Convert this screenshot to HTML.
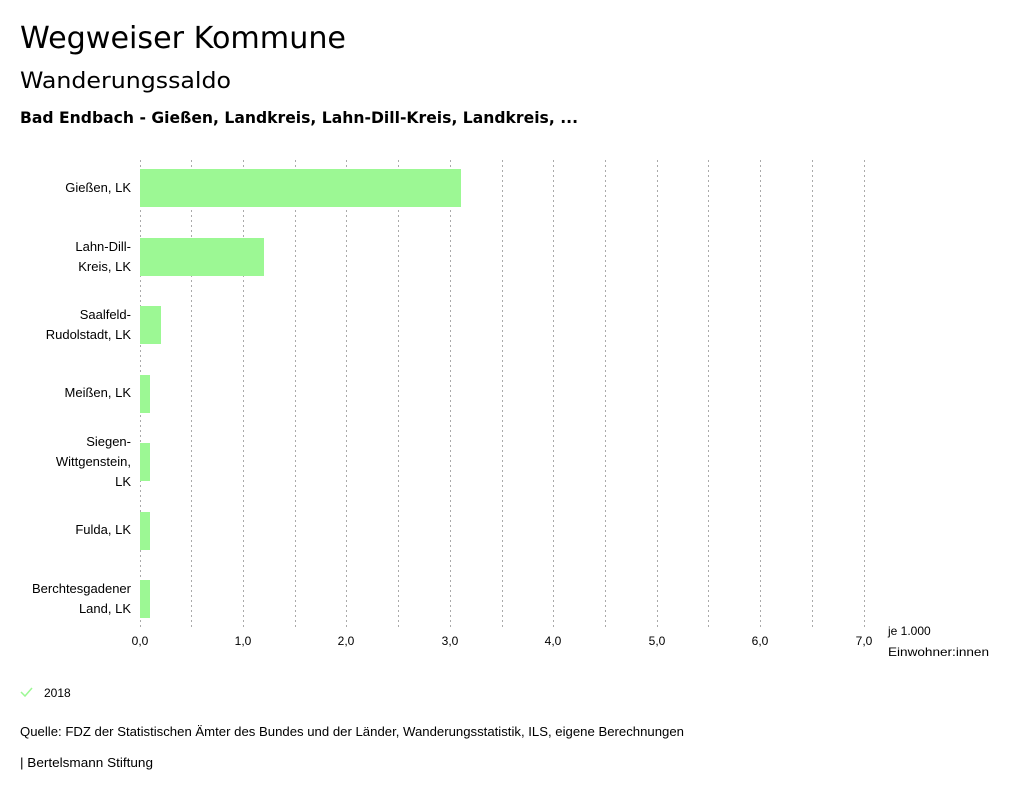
<!DOCTYPE html>
<html><head><meta charset="utf-8"><style>
body{margin:0;background:#fff;width:1024px;height:795px;overflow:hidden}
svg text{font-family:"Liberation Sans",sans-serif;fill:#000}
svg text.h{font-family:"DejaVu Sans",sans-serif}
</style></head><body>
<svg width="1024" height="795" xmlns="http://www.w3.org/2000/svg">
<text class="h" x="20" y="48" font-size="30" textLength="326" lengthAdjust="spacingAndGlyphs">Wegweiser Kommune</text>
<text class="h" x="20" y="88" font-size="22" textLength="211" lengthAdjust="spacingAndGlyphs">Wanderungssaldo</text>
<text class="h" x="20" y="123" font-size="16" font-weight="bold" textLength="558" lengthAdjust="spacingAndGlyphs">Bad Endbach - Gießen, Landkreis, Lahn-Dill-Kreis, Landkreis, ...</text>
<g stroke="#aaa" stroke-width="1" stroke-dasharray="2,3">
<line x1="140.5" y1="160" x2="140.5" y2="628"/><line x1="191.5" y1="160" x2="191.5" y2="628"/>
<line x1="243.5" y1="160" x2="243.5" y2="628"/><line x1="295.5" y1="160" x2="295.5" y2="628"/>
<line x1="346.5" y1="160" x2="346.5" y2="628"/><line x1="398.5" y1="160" x2="398.5" y2="628"/>
<line x1="450.5" y1="160" x2="450.5" y2="628"/><line x1="502.5" y1="160" x2="502.5" y2="628"/>
<line x1="553.5" y1="160" x2="553.5" y2="628"/><line x1="605.5" y1="160" x2="605.5" y2="628"/>
<line x1="657.5" y1="160" x2="657.5" y2="628"/><line x1="708.5" y1="160" x2="708.5" y2="628"/>
<line x1="760.5" y1="160" x2="760.5" y2="628"/><line x1="812.5" y1="160" x2="812.5" y2="628"/>
<line x1="864.5" y1="160" x2="864.5" y2="628"/>
</g>
<g fill="#9cf894">
<rect x="140" y="169" width="321" height="38"/>
<rect x="140" y="238" width="124" height="38"/>
<rect x="140" y="306" width="21" height="38"/>
<rect x="140" y="375" width="10" height="38"/>
<rect x="140" y="443" width="10" height="38"/>
<rect x="140" y="512" width="10" height="38"/>
<rect x="140" y="580" width="10" height="38"/>
</g>
<g font-size="13" text-anchor="end">
<text x="131" y="192">Gießen, LK</text>
<text x="131" y="251">Lahn-Dill-</text><text x="131" y="271">Kreis, LK</text>
<text x="131" y="319">Saalfeld-</text><text x="131" y="339">Rudolstadt, LK</text>
<text x="131" y="397">Meißen, LK</text>
<text x="131" y="446">Siegen-</text><text x="131" y="466">Wittgenstein,</text><text x="131" y="486">LK</text>
<text x="131" y="534">Fulda, LK</text>
<text x="131" y="593">Berchtesgadener</text><text x="131" y="613">Land, LK</text>
</g>
<g font-size="12" text-anchor="middle">
<text x="140" y="645">0,0</text><text x="243" y="645">1,0</text><text x="346" y="645">2,0</text>
<text x="450" y="645">3,0</text><text x="553" y="645">4,0</text><text x="657" y="645">5,0</text>
<text x="760" y="645">6,0</text><text x="864" y="645">7,0</text>
</g>
<text x="888" y="635" font-size="12">je 1.000</text>
<text x="888" y="656" font-size="12" textLength="101" lengthAdjust="spacingAndGlyphs">Einwohner:innen</text>
<polyline points="21,692 25,696 32,688" fill="none" stroke="#9cf894" stroke-width="1.5"/>
<text x="44" y="697" font-size="12">2018</text>
<text x="20" y="736" font-size="12.5" textLength="664" lengthAdjust="spacingAndGlyphs">Quelle: FDZ der Statistischen Ämter des Bundes und der Länder, Wanderungsstatistik, ILS, eigene Berechnungen</text>
<text x="20" y="767" font-size="12.5" textLength="133" lengthAdjust="spacingAndGlyphs">| Bertelsmann Stiftung</text>
</svg>
</body></html>
